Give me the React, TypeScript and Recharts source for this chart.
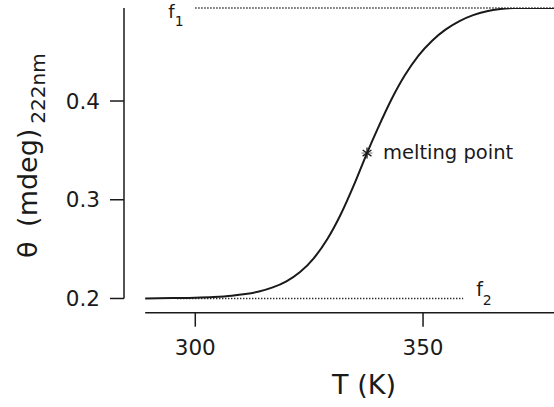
import React from 'react';
import { LineChart, Line, XAxis, YAxis, ReferenceLine, ReferenceDot, Label } from 'recharts';

// Temperature (K) and ellipticity (mdeg at 222 nm)
const temperatures = [289, 295, 300, 304, 308, 311, 314, 317, 320, 323, 326, 329, 332, 335, 337.7, 340, 343, 346, 349, 352, 355, 358, 361, 364, 367, 370, 374, 378.75];
const thetaValues = [0.2, 0.2004, 0.2008, 0.2015, 0.2028, 0.2045, 0.2071, 0.2112, 0.2174, 0.2268, 0.2407, 0.2602, 0.2858, 0.3168, 0.3473, 0.3715, 0.401, 0.426, 0.446, 0.4611, 0.4725, 0.481, 0.487, 0.491, 0.4932, 0.4941, 0.4942, 0.4942];

const xTicks = [300, 350];
const yTicks = [0.2, 0.3, 0.4];
const xDomain = [284.35, 378.75];
const yDomain = [0.1856, 0.4942];

const meltingPoint = { T: 337.7, theta: 0.3473, label: 'melting point' };
const f1 = { level: 0.4942, from: 300, to: 378.75, name: 'f', sub: '1' };
const f2 = { level: 0.2, from: 296, to: 358.8, name: 'f', sub: '2' };
const xAxisSpan = [289, 378.75];

const data = temperatures.map((T, i) => ({ T, theta: thetaValues[i] }));

const FONT = 'DejaVu Sans';
const INK = '#1a1a1a';

const renderYLabel = () => (
  <text
    x={36.5}
    y={258}
    transform="rotate(-90, 36.5, 258)"
    fontFamily={FONT}
    fontSize={27}
    fill={INK}
  >
    <tspan>θ</tspan>
    <tspan dx={6}> (mdeg)</tspan>
    <tspan dx={5} dy={8} fontSize={20}>222nm</tspan>
  </text>
);

const renderXLabel = () => (
  <text x={364} y={394} textAnchor="middle" fontFamily={FONT} fontSize={27} fill={INK}>
    T (K)
  </text>
);

const f1Label = (props: any) => {
  const vb = props.viewBox || {};
  const x = vb.x ?? 0;
  const y = vb.y ?? 0;
  return (
    <text x={x - 27} y={y + 10} fontFamily={FONT} fontSize={18} fill={INK}>
      {f1.name}
      <tspan dy={8} fontSize={14}>{f1.sub}</tspan>
    </text>
  );
};

const f2Label = (props: any) => {
  const vb = props.viewBox || {};
  const x = (vb.x ?? 0) + (vb.width ?? 0);
  const y = vb.y ?? 0;
  return (
    <text x={x + 13} y={y - 2} fontFamily={FONT} fontSize={19} fill={INK}>
      {f2.name}
      <tspan dy={9} fontSize={14}>{f2.sub}</tspan>
    </text>
  );
};

const StarMark = (props: any) => {
  const { cx, cy } = props;
  const r = 5.5;
  const d = r * 0.8;
  return (
    <g>
      <g stroke={INK} strokeWidth={1.3}>
        <line x1={cx} y1={cy - r} x2={cx} y2={cy + r} />
        <line x1={cx - d} y1={cy - d * 0.7} x2={cx + d} y2={cy + d * 0.7} />
        <line x1={cx - d} y1={cy + d * 0.7} x2={cx + d} y2={cy - d * 0.7} />
        <line x1={cx - r} y1={cy} x2={cx + r} y2={cy} strokeWidth={0.6} />
      </g>
      <text x={cx + 16} y={cy + 6} fontFamily={FONT} fontSize={19.5} fill={INK}>
        {meltingPoint.label}
      </text>
    </g>
  );
};

export default function App() {
  return (
    <div style={{ position: 'absolute', left: 0, top: 0, background: '#fff' }}>
      <LineChart
        width={554}
        height={407}
        data={data}
        margin={{ top: 8, right: 0, bottom: 0, left: 0 }}
      >
        <XAxis
          type="number"
          dataKey="T"
          domain={xDomain}
          ticks={xTicks}
          allowDataOverflow
          axisLine={false}
          tickSize={14}
          tickMargin={13}
          height={94.3}
          tickLine={{ stroke: INK, strokeWidth: 1.5 }}
          tick={{ fill: INK, fontSize: 21.5, fontFamily: FONT }}
        >
          <Label content={renderXLabel} />
        </XAxis>
        <YAxis
          type="number"
          domain={yDomain}
          ticks={yTicks}
          allowDataOverflow
          axisLine={false}
          width={124}
          tickSize={14}
          tickMargin={10}
          tickFormatter={(v: number) => v.toFixed(1)}
          tickLine={{ stroke: INK, strokeWidth: 1.5 }}
          tick={{ fill: INK, fontSize: 21.5, fontFamily: FONT }}
        >
          <Label content={renderYLabel} />
        </YAxis>
        <ReferenceLine
          segment={[{ x: xDomain[0], y: f2.level }, { x: xDomain[0], y: yDomain[1] }]}
          stroke={INK}
          strokeWidth={1.5}
          ifOverflow="visible"
        />
        <ReferenceLine
          segment={[{ x: xAxisSpan[0], y: yDomain[0] }, { x: xAxisSpan[1], y: yDomain[0] }]}
          stroke={INK}
          strokeWidth={1.5}
          ifOverflow="visible"
        />
        <ReferenceLine
          segment={[{ x: f1.from, y: f1.level }, { x: f1.to, y: f1.level }]}
          stroke={INK}
          strokeWidth={1.3}
          strokeDasharray="1.3 1.7"
          ifOverflow="visible"
          label={f1Label}
        />
        <ReferenceLine
          segment={[{ x: f2.from, y: f2.level }, { x: f2.to, y: f2.level }]}
          stroke={INK}
          strokeWidth={1.3}
          strokeDasharray="1.3 1.7"
          ifOverflow="visible"
          label={f2Label}
        />
        <Line
          type="monotone"
          dataKey="theta"
          stroke={INK}
          strokeWidth={2}
          dot={false}
          isAnimationActive={false}
        />
        <ReferenceDot
          x={meltingPoint.T}
          y={meltingPoint.theta}
          ifOverflow="visible"
          shape={StarMark}
        />
      </LineChart>
    </div>
  );
}
